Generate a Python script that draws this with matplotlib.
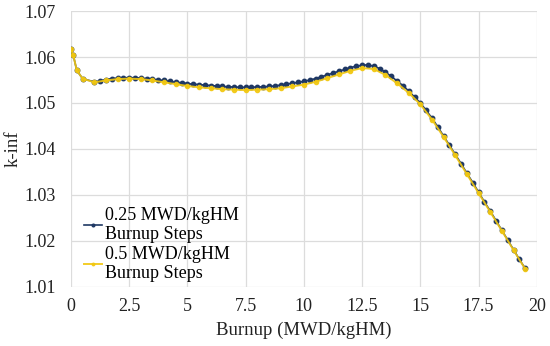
import numpy as np
import matplotlib
matplotlib.use("Agg")
import matplotlib.pyplot as plt

plt.rcParams['font.family'] = ['Liberation Serif', 'DejaVu Serif']

# burnup points (MWD/kgHM)
start_x = [0.0, 0.1, 0.25, 0.5]
start_y = [1.0617, 1.0604, 1.0571, 1.0553]

# 0.25 MWD/kgHM steps, from 1.0 to 19.5
fine_x = start_x + list(np.arange(1.0, 19.51, 0.25))
fine_y = start_y + [
    1.0546, 1.0548, 1.0551, 1.0553, 1.0554, 1.0555, 1.0555, 1.0555,
    1.0554, 1.0553, 1.0552, 1.0550, 1.0549, 1.0547, 1.0545, 1.0544,
    1.0542, 1.0541, 1.0540, 1.0539, 1.0538, 1.0537, 1.0536, 1.0535,
    1.0535, 1.0534, 1.0534, 1.0534, 1.0535, 1.0535, 1.0536, 1.0537,
    1.0539, 1.0541, 1.0543, 1.0545, 1.0547, 1.0550, 1.0553, 1.0557,
    1.0561, 1.0565, 1.0569, 1.0573, 1.0577, 1.0580, 1.0582, 1.0583,
    1.0580, 1.0575, 1.0567, 1.0558, 1.0548, 1.0538, 1.0526, 1.0513,
    1.0500, 1.0484, 1.0467, 1.0448, 1.0428, 1.0408, 1.0388, 1.0368,
    1.0347, 1.0327, 1.0306, 1.0285, 1.0265, 1.0244, 1.0223, 1.0202,
    1.0181, 1.0160, 1.0140,
]

# 0.5 MWD/kgHM steps, from 1.0 to 19.5
coarse_x = start_x + list(np.arange(1.0, 19.51, 0.5))
coarse_y = start_y + [
    1.0545, 1.0549, 1.0552, 1.0553, 1.0552, 1.0549, 1.0545, 1.0541,
    1.0537, 1.0534, 1.0532, 1.0530, 1.0529, 1.0528, 1.0529, 1.0530,
    1.0532, 1.0536, 1.0540, 1.0546, 1.0554, 1.0562, 1.0570, 1.0576,
    1.0574, 1.0561, 1.0543, 1.0522, 1.0497, 1.0464, 1.0426, 1.0386,
    1.0345, 1.0304, 1.0263, 1.0222, 1.0180, 1.0139,
]

labels = ["0.25 MWD/kgHM\nBurnup Steps", "0.5 MWD/kgHM\nBurnup Steps"]
navy = '#1F3864'
gold = '#F2C811'

fig = plt.figure(figsize=(5.5, 3.46), dpi=100)
ax = fig.add_axes([0.129, 0.171, 0.847, 0.797])

ax.plot(fine_x, fine_y, color=navy, lw=1.2, marker='o', ms=3.2,
        label=labels[0], zorder=3)
ax.plot(coarse_x, coarse_y, color=gold, lw=1.4, marker='o', ms=3.0,
        markerfacecolor=gold, markeredgecolor=gold, alpha=0.9,
        label=labels[1], zorder=4)

ax.set_xlim(0, 20)
ax.set_ylim(1.01, 1.07)
ax.set_xticks([0, 2.5, 5, 7.5, 10, 12.5, 15, 17.5, 20])
ax.set_xticklabels(['0', '2.5', '5', '7.5', '10', '12.5', '15', '17.5', '20'])
ax.set_yticks([1.01, 1.02, 1.03, 1.04, 1.05, 1.06, 1.07])
ax.set_yticklabels(['1.01', '1.02', '1.03', '1.04', '1.05', '1.06', '1.07'])
ax.grid(True, color='#DCDCDC', lw=0.9)
ax.set_axisbelow(True)
for s in ax.spines.values():
    s.set_visible(False)
ax.tick_params(length=0, labelsize=13, colors='#222222')
ax.tick_params(axis='y', pad=11)
ax.tick_params(axis='x', pad=8)

ax.set_xlabel('Burnup (MWD/kgHM)', fontsize=13.5, color='#222222', labelpad=5)
ax.set_ylabel('k-inf', fontsize=13.5, color='#222222', labelpad=2)

ax.legend(loc='lower left', bbox_to_anchor=(0.0, -0.03), frameon=False,
          fontsize=13, handlelength=1.0, handletextpad=0.2,
          labelspacing=0.15, borderaxespad=0.3, markerscale=0.6)

fig.savefig('out.png', dpi=100)
